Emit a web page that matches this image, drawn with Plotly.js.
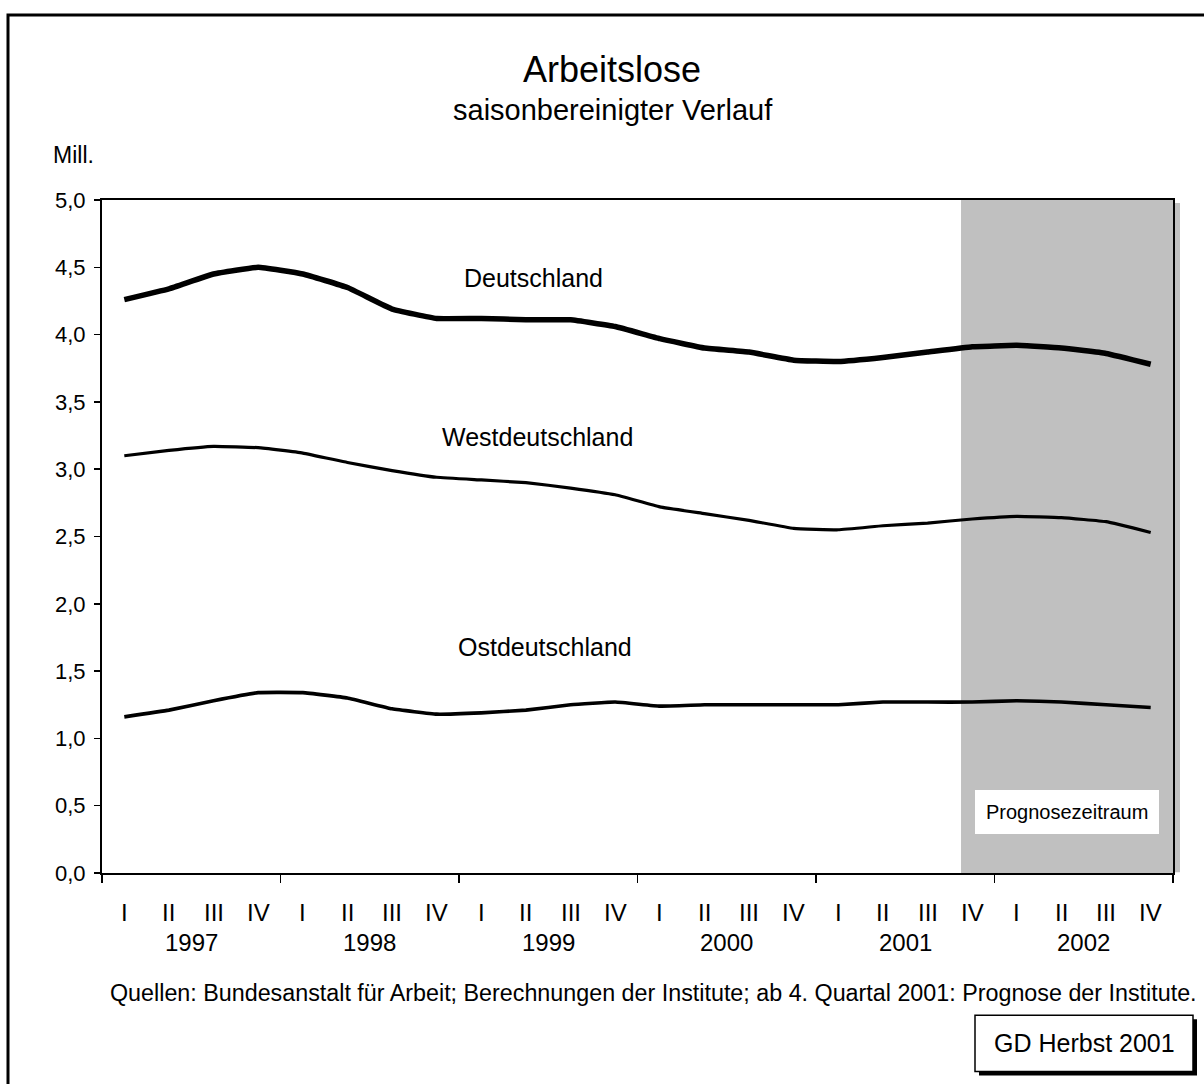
<!DOCTYPE html>
<html>
<head>
<meta charset="utf-8">
<script src="https://cdn.plot.ly/plotly-3.0.1.min.js"></script>
<style>html,body{margin:0;padding:0;background:#fff;}#chart{width:1204px;height:1084px;}</style>
</head>
<body>
<div id="chart"></div>
<script>
// ---- data ----
const years = ['1997', '1998', '1999', '2000', '2001', '2002'];
const quarterLabels = ['I', 'II', 'III', 'IV'];
const deutschland = [4.26, 4.34, 4.45, 4.50, 4.45, 4.35, 4.19, 4.12, 4.12, 4.11, 4.11, 4.06,
                     3.97, 3.90, 3.87, 3.81, 3.80, 3.83, 3.87, 3.91, 3.92, 3.90, 3.86, 3.78];
const westdeutschland = [3.10, 3.14, 3.17, 3.16, 3.12, 3.05, 2.99, 2.94, 2.92, 2.90, 2.86, 2.81,
                         2.72, 2.67, 2.62, 2.56, 2.55, 2.58, 2.60, 2.63, 2.65, 2.64, 2.61, 2.53];
const ostdeutschland = [1.16, 1.21, 1.28, 1.34, 1.34, 1.30, 1.22, 1.18, 1.19, 1.21, 1.25, 1.27,
                        1.24, 1.25, 1.25, 1.25, 1.25, 1.27, 1.27, 1.27, 1.28, 1.27, 1.25, 1.23];
const seriesNames = ['Deutschland', 'Westdeutschland', 'Ostdeutschland'];
const forecastStart = 19.25; // shading begins shortly before 2001 IV (in quarter units)
const yTicks = [0, 0.5, 1, 1.5, 2, 2.5, 3, 3.5, 4, 4.5, 5];

// ---- derived ----
const xs = deutschland.map((_, i) => i + 0.5);
const nQ = deutschland.length;
const yearBounds = years.map((_, i) => i * 4).concat([years.length * 4]);

// ---- layout helpers (pixel -> paper) ----
const L = 102, R = 1173, T = 200, B = 872.7;
const pX = x => (x - L) / (R - L);
const pY = y => (B - y) / (B - T);
const FONT = 'Liberation Sans, Arial, Helvetica, sans-serif';

const lineWidths = [5.5, 3.2, 3.6];
const seriesData = [deutschland, westdeutschland, ostdeutschland];
const traces = seriesData.map((ys, k) => ({
  type: 'scatter', mode: 'lines', x: xs, y: ys, name: seriesNames[k],
  line: {color: '#000', width: lineWidths[k], shape: 'spline', smoothing: 0.3},
  hoverinfo: 'skip'
}));

const annotations = [];
// title & subtitle
annotations.push({xref: 'paper', yref: 'paper', x: pX(612), y: pY(70), text: 'Arbeitslose',
  showarrow: false, xanchor: 'center', yanchor: 'middle', font: {family: FONT, size: 36, color: '#000'}});
annotations.push({xref: 'paper', yref: 'paper', x: pX(613), y: pY(110), text: 'saisonbereinigter Verlauf',
  showarrow: false, xanchor: 'center', yanchor: 'middle', font: {family: FONT, size: 29, color: '#000'}});
annotations.push({xref: 'paper', yref: 'paper', x: pX(73), y: pY(155), text: 'Mill.',
  showarrow: false, xanchor: 'center', yanchor: 'middle', font: {family: FONT, size: 23, color: '#000'}});
// quarter & year labels
for (let i = 0; i < nQ; i++) {
  annotations.push({xref: 'x', yref: 'paper', x: i + 0.5, y: pY(912), text: quarterLabels[i % 4],
    showarrow: false, xanchor: 'center', yanchor: 'middle', font: {family: FONT, size: 24, color: '#000'}});
}
years.forEach((yr, j) => {
  annotations.push({xref: 'x', yref: 'paper', x: j * 4 + 2, y: pY(942), text: yr,
    showarrow: false, xanchor: 'center', yanchor: 'middle', font: {family: FONT, size: 24, color: '#000'}});
});
// series labels
annotations.push({xref: 'x', yref: 'y', x: 9.66, y: 4.42, text: seriesNames[0], showarrow: false,
  xanchor: 'center', yanchor: 'middle', font: {family: FONT, size: 25, color: '#000'}});
annotations.push({xref: 'x', yref: 'y', x: 9.75, y: 3.24, text: seriesNames[1], showarrow: false,
  xanchor: 'center', yanchor: 'middle', font: {family: FONT, size: 25, color: '#000'}});
annotations.push({xref: 'x', yref: 'y', x: 9.93, y: 1.68, text: seriesNames[2], showarrow: false,
  xanchor: 'center', yanchor: 'middle', font: {family: FONT, size: 25, color: '#000'}});
// forecast box
annotations.push({xref: 'paper', yref: 'paper', x: pX(1067), y: pY(812), text: 'Prognosezeitraum',
  showarrow: false, xanchor: 'center', yanchor: 'middle', bgcolor: '#fff', borderpad: 11, borderwidth: 0,
  font: {family: FONT, size: 20, color: '#000'}});
// source
annotations.push({xref: 'paper', yref: 'paper', x: pX(653), y: pY(993),
  text: 'Quellen: Bundesanstalt für Arbeit; Berechnungen der Institute; ab 4. Quartal 2001: Prognose der Institute.',
  showarrow: false, xanchor: 'center', yanchor: 'middle', font: {family: FONT, size: 23.3, color: '#000'}});
// GD box text
annotations.push({xref: 'paper', yref: 'paper', x: pX(1084), y: pY(1043), text: 'GD Herbst 2001',
  showarrow: false, xanchor: 'center', yanchor: 'middle', font: {family: FONT, size: 25, color: '#000'}});

const shapes = [
  // forecast shading
  {type: 'rect', xref: 'x', yref: 'y', x0: forecastStart, x1: nQ, y0: 0, y1: 5,
   fillcolor: '#c0c0c0', line: {width: 0}, layer: 'below'},
  // plot shadow on right
  {type: 'rect', xref: 'paper', yref: 'paper', x0: pX(1175), x1: pX(1180), y0: pY(872), y1: pY(203),
   fillcolor: '#c0c0c0', line: {width: 0}, layer: 'below'},
  // outer frame
  {type: 'rect', xref: 'paper', yref: 'paper', x0: pX(8), x1: pX(1230), y0: pY(1110), y1: pY(15),
   fillcolor: 'rgba(0,0,0,0)', line: {color: '#000', width: 3}},
  // GD box shadow
  {type: 'rect', xref: 'paper', yref: 'paper', x0: pX(979), x1: pX(1197), y0: pY(1075), y1: pY(1019),
   fillcolor: '#000', line: {width: 0}},
  // GD box
  {type: 'rect', xref: 'paper', yref: 'paper', x0: pX(975), x1: pX(1193), y0: pY(1071), y1: pY(1015),
   fillcolor: '#fff', line: {color: '#000', width: 1.5}}
];

const layout = {
  width: 1204, height: 1084,
  margin: {l: L, r: 1204 - R, t: T, b: 1084 - B, pad: 0},
  paper_bgcolor: '#fff', plot_bgcolor: 'rgba(0,0,0,0)',
  showlegend: false,
  separators: ',.',
  font: {family: FONT, color: '#000'},
  xaxis: {
    range: [0, nQ], tickmode: 'array', tickvals: yearBounds, ticktext: yearBounds.map(() => ''),
    ticks: 'outside', ticklen: 8, tickwidth: 1.5, tickcolor: '#000',
    showgrid: false, zeroline: false, showline: true, linecolor: '#000', linewidth: 2, mirror: true,
    fixedrange: true, automargin: false
  },
  yaxis: {
    range: [0, 5], tickmode: 'array', tickvals: yTicks, tickformat: '.1f',
    ticks: 'outside', ticklen: 6, tickwidth: 1.5, tickcolor: '#000',
    tickfont: {family: FONT, size: 22, color: '#000'}, ticklabelstandoff: 4,
    showgrid: false, zeroline: false, showline: true, linecolor: '#000', linewidth: 2, mirror: true,
    fixedrange: true, automargin: false
  },
  annotations: annotations,
  shapes: shapes
};

Plotly.newPlot('chart', traces, layout, {displayModeBar: false, staticPlot: true});
</script>
</body>
</html>
